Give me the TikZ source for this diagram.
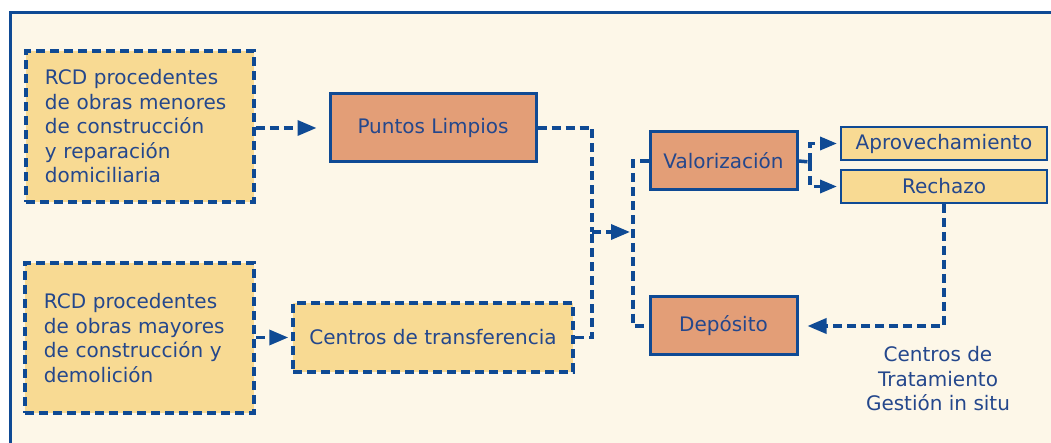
\documentclass[tikz,border=0pt]{standalone}
\usepackage{fontspec}
\setmainfont{DejaVu Sans}
\usetikzlibrary{arrows.meta}
\definecolor{cream}{HTML}{FDF7E8}
\definecolor{ylw}{HTML}{F8DA93}
\definecolor{org}{HTML}{E39E77}
\definecolor{blu}{HTML}{0F4A94}
\definecolor{txt}{HTML}{24478C}
\begin{document}
\begin{tikzpicture}[x=1bp,y=-1bp,
  every node/.style={font=\fontsize{20bp}{24.5bp}\selectfont, text=txt},
  dbox/.style={draw=blu, fill=ylw, line width=3.5bp, dash pattern=on 9bp off 5bp, inner sep=0pt},
  obox/.style={draw=blu, fill=org, line width=3bp, inner sep=0pt},
  ybox/.style={draw=blu, fill=ylw, line width=2bp, inner sep=0pt},
  dl/.style={draw=blu, line width=3.5bp, dash pattern=on 9bp off 5bp},
  tip/.style={-{Triangle[length=19bp,width=15bp]}},
  stip/.style={-{Triangle[length=17bp,width=13bp]}}]
\useasboundingbox (0,0) rectangle (1051,443);
\clip (0,0) rectangle (1051,443);
\fill[white] (0,0) rectangle (1051,443);
\fill[cream] (10,13) rectangle (1070,470);
\draw[blu, line width=3bp] (10,13) rectangle (1070,470);

\node[dbox, minimum width=228bp, minimum height=151bp, text width=190bp, align=left] (b1) at (140,126.5)
 {RCD procedentes\\de obras menores\\de construcción\\y reparación\\domiciliaria};
\node[dbox, minimum width=229bp, minimum height=150bp, text width=191bp, align=left] (b2) at (139.5,338)
 {RCD procedentes\\de obras mayores\\de construcción y\\demolición};
\node[obox, minimum width=206bp, minimum height=68bp] (pl) at (433,128) {Puntos Limpios};
\node[dbox, minimum width=280bp, minimum height=69bp] (ct) at (433,337.5) {Centros de transferencia};
\node[obox, minimum width=147bp, minimum height=58bp] (va) at (723.5,161) {Valorización};
\node[obox, minimum width=147bp, minimum height=58bp] (de) at (723.5,326) {Depósito};
\node[ybox, minimum width=206bp, minimum height=33bp] (ap) at (944,143.5) {Aprovechamiento};
\node[ybox, minimum width=206bp, minimum height=33bp] (re) at (944,186.5) {Rechazo};
\node[align=center] (lab) at (938,379) {Centros de\\Tratamiento\\Gestión in situ};

\coordinate (j1) at (592,232);
\coordinate (j2) at (633,232);
\coordinate (j3) at (810,162);

\draw[dl, tip, shorten >=12bp] (b1.east |- pl.west) -- (pl.west);
\draw[dl, tip, shorten >=3bp] (b2.east |- ct.west) -- (ct.west);
\draw[dl] (pl.east) -| (j1);
\draw[dl] (ct.east) -| (j1);
\draw[dl, tip, shorten >=3bp] (j1) -- (j2);
\draw[dl] (va.west) -| (j2) |- (de.west);
\draw[dl] (va.east) -- (j3);
\draw[dl, stip, shorten >=3bp] (j3) |- (ap.west);
\draw[dl, stip, shorten >=3bp] (j3) |- (re.west);
\draw[dl, tip, shorten >=9bp] (re.south) |- (de.east);
\end{tikzpicture}
\end{document}
